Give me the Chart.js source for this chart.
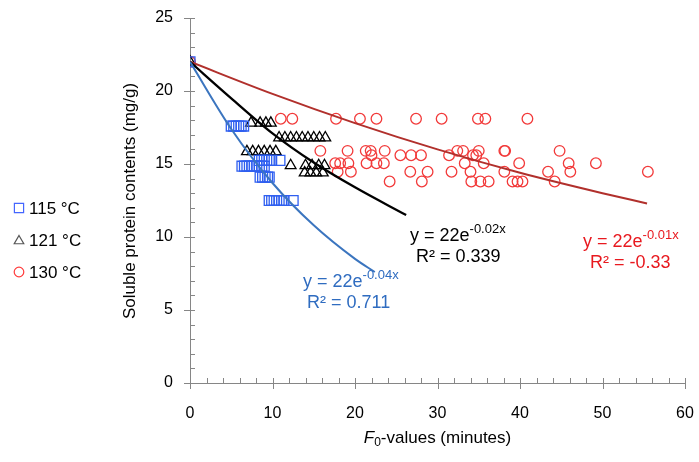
<!DOCTYPE html>
<html><head><meta charset="utf-8">
<script src="https://cdn.jsdelivr.net/npm/chart.js@4/dist/chart.umd.min.js"></script>
<style>html,body{margin:0;padding:0;background:#fff;}</style>
</head><body>
<canvas id="c" width="699" height="462"></canvas>
<script>
// ---- data ----
const seriesNames = ['115 °C', '121 °C', '130 °C'];

const x115 = [0, 5.0,5.3,5.6,5.9,6.2,6.5, 8.4,8.7,9.0,9.3,9.6,9.9,10.9, 6.3,6.6,6.9,7.2,7.5,7.8,8.1,8.4,8.7,9.0, 8.5,8.8,9.1,9.4,9.6, 9.6,9.9,10.2,10.5,10.8,11.1,11.4,12.5];
const y115 = [22, 17.6,17.6,17.6,17.6,17.6,17.6, 15.25,15.25,15.25,15.25,15.25,15.25,15.25, 14.85,14.85,14.85,14.85,14.85,14.85,14.85,14.85,14.85,14.85, 14.1,14.1,14.1,14.1,14.1, 12.5,12.5,12.5,12.5,12.5,12.5,12.5,12.5];

const x121 = [0, 7.4,8.5,9.2,9.8, 10.8,11.5,12.2,12.9,13.6,14.3,15.0,15.7,16.4, 6.9,7.6,8.3,9.0,9.7,10.4, 12.2, 14.0,14.8,15.6,16.3, 13.9,14.6,15.3,16.1];
const y121 = [22, 17.8,17.8,17.8,17.8, 16.8,16.8,16.8,16.8,16.8,16.8,16.8,16.8,16.8, 15.85,15.85,15.85,15.85,15.85,15.85, 14.9, 14.9,14.9,14.9,14.9, 14.4,14.4,14.4,14.4];

const x130 = [0,
  11.0,12.4,17.7,20.6,22.6,27.4,30.5,34.9,35.8,40.9,
  15.8,19.1,21.3,21.9,23.6,32.4,33.1,35.0,38.1,38.2,44.8,
  22.0,25.5,26.8,28.0,31.4,34.3,34.7,
  17.6,18.2,19.2,21.4,22.6,23.5,33.3,35.6,39.9,45.9,49.2,
  17.9,19.5,26.7,28.8,31.7,34.0,38.1,43.4,46.1,55.5,
  24.2,28.1,34.1,35.2,36.2,39.1,39.7,40.3,44.2];
const y130 = [22,
  18.1,18.1,18.1,18.1,18.1,18.1,18.1,18.1,18.1,18.1,
  15.9,15.9,15.9,15.9,15.9,15.9,15.9,15.9,15.9,15.9,15.9,
  15.6,15.6,15.6,15.6,15.6,15.6,15.6,
  15.05,15.05,15.05,15.05,15.05,15.05,15.05,15.05,15.05,15.05,15.05,
  14.47,14.47,14.47,14.47,14.47,14.47,14.47,14.47,14.47,14.47,
  13.8,13.8,13.8,13.8,13.8,13.8,13.8,13.8,13.8];

// trendline points
const fit115X = [0, 5, 10, 15, 20, 22.4];
const fit115Y = [22, 17.4, 13.7, 10.8, 8.5, 7.6];
const fit121X = [0, 5, 10, 15, 20, 26.2];
const fit121Y = [22, 19.5, 17.1, 15.1, 13.4, 11.5];
const fit130X = [0, 10, 20, 30, 40, 50, 55.4];
const fit130Y = [22, 19.8, 17.8, 16.0, 14.4, 13.0, 12.3];

const fitEquations = ['y = 22e|-0.04x', 'y = 22e|-0.02x', 'y = 22e|-0.01x'];
const fitR2 = ['R² = 0.711', 'R² = 0.339', 'R² = -0.33'];

const xTicks = [0, 10, 20, 30, 40, 50, 60];
const yTicks = [0, 5, 10, 15, 20, 25];

const xTitle = ['F', '0', '-values (minutes)'];
const yTitle = 'Soluble protein contents (mg/g)';

// ---- helpers ----
const pts = (xs, ys) => xs.map((x, i) => ({x: x, y: ys[i]}));
const FONT = "'Liberation Sans', Arial, sans-serif";
const BLUE = '#2f5ff0', RED = '#f23a3a', BLACK = '#000000';

const axisDecor = {
  id: 'axisDecor',
  beforeDatasetsDraw(chart) {
    const ctx = chart.ctx, xs = chart.scales.x, ys = chart.scales.y;
    const ax = xs.getPixelForValue(0), ay = ys.getPixelForValue(0);
    ctx.save();
    ctx.strokeStyle = '#868686';
    ctx.lineWidth = 1;
    ctx.beginPath();
    for (let v = 0; v <= 60; v += 2) {
      const p = Math.round(xs.getPixelForValue(v)) + 0.5;
      const major = xTicks.includes(v);
      ctx.moveTo(p, ay - 5);
      ctx.lineTo(p, major ? ay + 6 : ay);
    }
    for (let v = 0; v <= 25; v += 1) {
      const p = Math.round(ys.getPixelForValue(v)) + 0.5;
      const major = yTicks.includes(v);
      ctx.moveTo(major ? ax - 6 : ax, p);
      ctx.lineTo(ax + 5, p);
    }
    ctx.stroke();
    ctx.restore();
  },
  afterDraw(chart) {
    const ctx = chart.ctx, xs = chart.scales.x, ys = chart.scales.y;
    ctx.save();
    // legend
    const legendStyles = [
      {style: 'rect', r: 6.5, color: '#4466ff'},
      {style: 'triangle', r: 5.5, color: '#555555'},
      {style: 'circle', r: 4.8, color: '#ff3b3b'}
    ];
    const legY = [208, 240, 272];
    seriesNames.forEach((name, i) => {
      ctx.lineWidth = 1.2;
      ctx.strokeStyle = legendStyles[i].color;
      ctx.fillStyle = 'rgba(0,0,0,0)';
      Chart.helpers.drawPoint(ctx, {pointStyle: legendStyles[i].style, radius: legendStyles[i].r, borderWidth: 1.2, rotation: 0}, 19, legY[i] + (i === 1 ? 1 : 0));
      ctx.fillStyle = '#000';
      ctx.font = '17px ' + FONT;
      ctx.textAlign = 'left';
      ctx.textBaseline = 'middle';
      ctx.fillText(name, 29, legY[i] + 1);
    });
    // trend equations
    const eqPos = [
      {x: 303, y: 282, rx: 307, ry: 303, color: '#2f6cc0'},
      {x: 410, y: 236, rx: 416, ry: 257, color: '#000000'},
      {x: 583, y: 242, rx: 590, ry: 263, color: '#e8191f'}
    ];
    fitEquations.forEach((eq, i) => {
      const [base, sup] = eq.split('|');
      const p = eqPos[i];
      ctx.fillStyle = p.color;
      ctx.textAlign = 'left';
      ctx.textBaseline = 'middle';
      ctx.font = '18px ' + FONT;
      ctx.fillText(base, p.x, p.y);
      const w = ctx.measureText(base).width;
      ctx.font = '13px ' + FONT;
      ctx.fillText(sup, p.x + w, p.y - 7);
      ctx.font = '18px ' + FONT;
      ctx.fillText(fitR2[i], p.rx, p.ry);
    });
    // x title
    ctx.fillStyle = '#000';
    ctx.textBaseline = 'middle';
    ctx.textAlign = 'left';
    ctx.font = 'italic 17px ' + FONT;
    const w1 = ctx.measureText(xTitle[0]).width;
    ctx.font = '12px ' + FONT;
    const w2 = ctx.measureText(xTitle[1]).width;
    ctx.font = '17px ' + FONT;
    const w3 = ctx.measureText(xTitle[2]).width;
    const cx = (xs.left + xs.right) / 2;
    let sx = cx - (w1 + w2 + w3) / 2;
    const ty = 438;
    ctx.font = 'italic 17px ' + FONT;
    ctx.fillText(xTitle[0], sx, ty);
    ctx.font = '12px ' + FONT;
    ctx.fillText(xTitle[1], sx + w1, ty + 5);
    ctx.font = '17px ' + FONT;
    ctx.fillText(xTitle[2], sx + w1 + w2, ty);
    // y title
    ctx.translate(130, 201);
    ctx.rotate(-Math.PI / 2);
    ctx.textAlign = 'center';
    ctx.font = '17px ' + FONT;
    ctx.fillText(yTitle, 0, 0);
    ctx.restore();
  }
};

const zeroPad = s => { s.paddingLeft = 0; s.paddingRight = 0; s.paddingTop = 0; s.paddingBottom = 0; };

new Chart(document.getElementById('c'), {
  type: 'scatter',
  data: {
    datasets: [
      {label: seriesNames[0], data: pts(x115, y115), pointStyle: 'rect', pointRadius: 7, borderColor: BLUE, backgroundColor: 'rgba(0,0,0,0)', pointBorderWidth: 1.3, order: 2},
      {label: seriesNames[1], data: pts(x121, y121), pointStyle: 'triangle', pointRadius: 6.2, borderColor: BLACK, backgroundColor: 'rgba(0,0,0,0)', pointBorderWidth: 1.3, order: 2},
      {label: seriesNames[2], data: pts(x130, y130), pointStyle: 'circle', pointRadius: 5.3, borderColor: RED, backgroundColor: 'rgba(0,0,0,0)', pointBorderWidth: 1.3, order: 2},
      {type: 'line', label: 'fit115', data: pts(fit115X, fit115Y), borderColor: '#3b75bf', borderWidth: 2, pointRadius: 0, cubicInterpolationMode: 'monotone', fill: false, order: 1},
      {type: 'line', label: 'fit121', data: pts(fit121X, fit121Y), borderColor: '#000000', borderWidth: 2.3, pointRadius: 0, cubicInterpolationMode: 'monotone', fill: false, order: 1},
      {type: 'line', label: 'fit130', data: pts(fit130X, fit130Y), borderColor: '#b1302c', borderWidth: 2, pointRadius: 0, cubicInterpolationMode: 'monotone', fill: false, order: 1}
    ]
  },
  options: {
    responsive: false,
    devicePixelRatio: 1,
    animation: false,
    layout: {padding: {left: 0, right: 14, top: 18, bottom: 0}},
    plugins: {legend: {display: false}, tooltip: {enabled: false}},
    scales: {
      x: {
        type: 'linear', min: 0, max: 60,
        afterFit: s => { s.height = 79; zeroPad(s); },
        afterBuildTicks: s => { s.ticks = xTicks.map(v => ({value: v})); },
        ticks: {font: {family: FONT, size: 16}, color: '#000', padding: 21, maxRotation: 0},
        grid: {display: false, drawTicks: false},
        border: {display: true, color: '#868686', width: 1}
      },
      y: {
        type: 'linear', min: 0, max: 25,
        afterFit: s => { s.width = 190; zeroPad(s); },
        afterBuildTicks: s => { s.ticks = yTicks.map(v => ({value: v})); },
        ticks: {font: {family: FONT, size: 16}, color: '#000', padding: 17},
        grid: {display: false, drawTicks: false},
        border: {display: true, color: '#868686', width: 1}
      }
    }
  },
  plugins: [axisDecor]
});
</script>
</body></html>
